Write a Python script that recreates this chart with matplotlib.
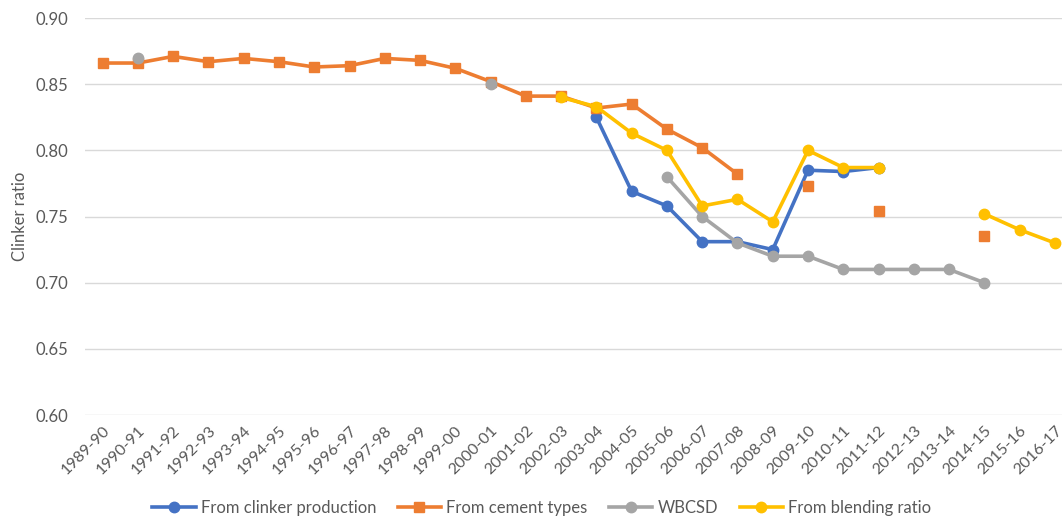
import numpy as np
import matplotlib.pyplot as plt

nan = np.nan
years = ['1989-90', '1990-91', '1991-92', '1992-93', '1993-94', '1994-95', '1995-96',
         '1996-97', '1997-98', '1998-99', '1999-00', '2000-01', '2001-02', '2002-03',
         '2003-04', '2004-05', '2005-06', '2006-07', '2007-08', '2008-09', '2009-10',
         '2010-11', '2011-12', '2012-13', '2013-14', '2014-15', '2015-16', '2016-17']

clinker_prod = [nan] * 14 + [0.825, 0.769, 0.758, 0.731, 0.731, 0.725, 0.785, 0.784, 0.787,
                             nan, nan, nan, nan, nan]
cement_types = [0.866, 0.866, 0.871, 0.867, 0.8695, 0.867, 0.863, 0.864, 0.8695, 0.868,
                0.862, 0.852, 0.841, 0.841, 0.832, 0.835, 0.816, 0.802, 0.782, nan,
                0.773, nan, 0.754, nan, nan, 0.735, nan, nan]
wbcsd = [nan, 0.8695, nan, nan, nan, nan, nan, nan, nan, nan, nan, 0.850, nan, nan,
         nan, nan, 0.780, 0.750, 0.730, 0.720, 0.720, 0.710, 0.710, 0.710, 0.710, 0.700,
         nan, nan]
blending = [nan] * 13 + [0.840, 0.833, 0.813, 0.800, 0.758, 0.763, 0.746, 0.800, 0.787,
                         0.787, nan, nan, 0.752, 0.740, 0.730]

plt.rcParams['font.family'] = ['Lato', 'DejaVu Sans']

fig = plt.figure(figsize=(10.62, 5.23), dpi=100)
ax = fig.add_axes([0.080, 0.2065, 0.92, 0.759])

x = np.arange(len(years))
ax.plot(x, clinker_prod, '-o', color='#4472C4', lw=2.6, ms=7.5, label='From clinker production')
ax.plot(x, cement_types, '-s', color='#ED7D31', lw=2.6, ms=7, label='From cement types')
ax.plot(x, wbcsd, '-o', color='#A5A5A5', lw=2.6, ms=7.5, label='WBCSD')
ax.plot(x, blending, '-o', color='#FFC000', lw=2.6, ms=7.5, label='From blending ratio')

ax.set_ylim(0.60, 0.90)
ax.set_xlim(-0.5, 27.2)
ax.set_yticks(np.arange(0.60, 0.901, 0.05))
ax.set_yticklabels(['%.2f' % v for v in np.arange(0.60, 0.901, 0.05)])
ax.set_xticks(x)
ax.set_xticklabels(years, rotation=45, ha='right', rotation_mode='anchor')
ax.tick_params(axis='both', length=0, colors='#595959')
ax.tick_params(axis='y', labelsize=12, pad=12)
ax.tick_params(axis='x', labelsize=11.5, pad=6)
ax.grid(axis='y', color='#D9D9D9', lw=1)
ax.set_axisbelow(True)
for s in ax.spines.values():
    s.set_visible(False)
ax.set_ylabel('Clinker ratio', color='#595959', fontsize=12)
ax.yaxis.set_label_coords(-0.058, 0.5)

fig.legend(loc='lower center', ncol=4, frameon=False, fontsize=12,
           bbox_to_anchor=(0.51, -0.015), handlelength=2.6, columnspacing=1.3,
           handletextpad=0.3, labelcolor='#595959')

fig.savefig('out.png', dpi=100)
